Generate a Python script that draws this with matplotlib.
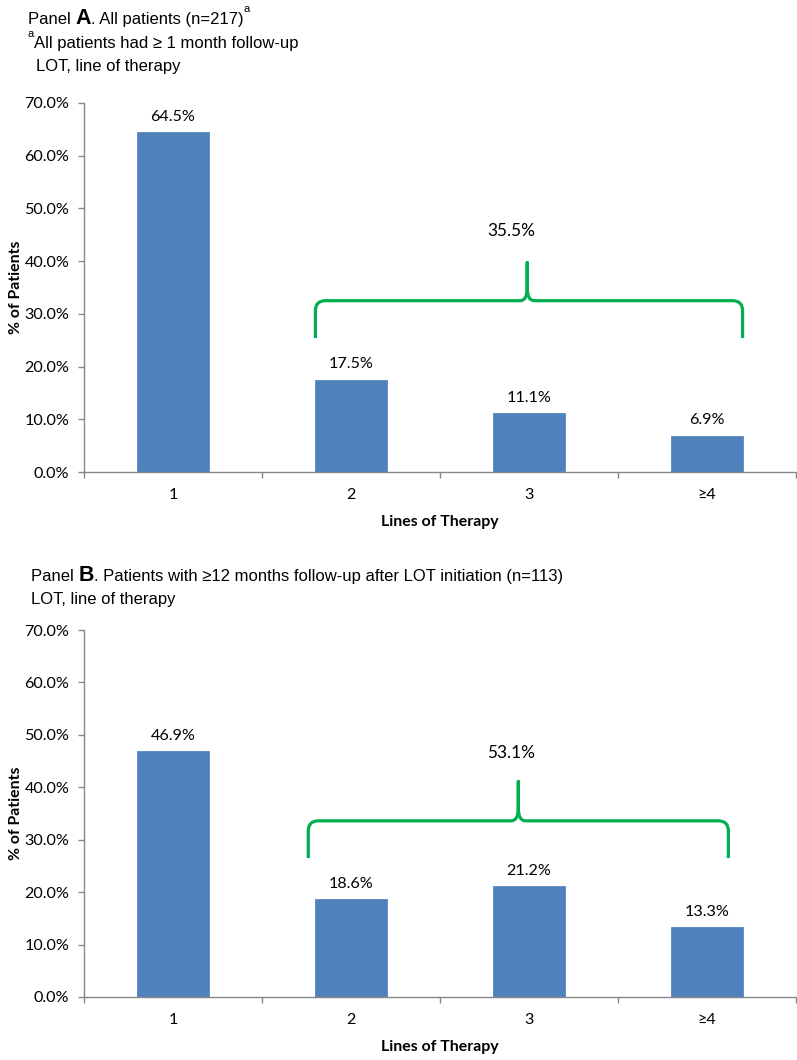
import matplotlib
matplotlib.use('Agg')
import matplotlib.pyplot as plt
from matplotlib.path import Path
from matplotlib.patches import PathPatch

# ---------------- data ----------------
categories = ['1', '2', '3', '≥4']
panel_a_values = [64.5, 17.5, 11.1, 6.9]
panel_b_values = [46.9, 18.6, 21.2, 13.3]
panel_a_total = 35.5   # sum of LOT 2..>=4
panel_b_total = 53.1
y_ticks = [0, 10, 20, 30, 40, 50, 60, 70]

# bracket annotation geometry (data coords): x_left, x_mid, x_right, y_bottom, y_bar, y_tip
bracket_a = (0.80, 1.99, 3.20, 25.4, 32.5, 39.7)
bracket_b = (0.76, 1.94, 3.12, 26.5, 33.6, 41.1)
total_label_a = (1.90, 45.8)
total_label_b = (1.90, 46.6)

W, H = 797, 1060
BAR = '#4F81BD'
GRAY = '#878787'
GREEN = '#00B050'
CAL = ['Lato', 'DejaVu Sans']
ARIAL = ['Liberation Sans', 'DejaVu Sans']

fig = plt.figure(figsize=(W / 100, H / 100), dpi=100)
renderer = fig.canvas.get_renderer()


def px_axes(left, top, right, bottom):
    return fig.add_axes([left / W, 1 - bottom / H, (right - left) / W, (bottom - top) / H])


def draw_brace(ax, geom):
    x0, xm, x1, yb, yh, yt = geom
    p0 = ax.transData.transform((0, 0))
    p1 = ax.transData.transform((1, 1))
    sx = p1[0] - p0[0]
    sy = p1[1] - p0[1]
    rx, ry = 10 / sx, 10 / sy      # corner radius
    dx, dy = 7 / sx, 13 / sy       # tip flare
    verts = [
        (x0, yb), (x0, yh - ry),
        (x0, yh), (x0 + rx, yh),
        (xm - dx, yh),
        (xm, yh), (xm, yh + dy),
        (xm, yt),
        (xm, yh + dy),
        (xm, yh), (xm + dx, yh),
        (x1 - rx, yh),
        (x1, yh), (x1, yh - ry),
        (x1, yb),
    ]
    codes = [Path.MOVETO, Path.LINETO,
             Path.CURVE3, Path.CURVE3,
             Path.LINETO,
             Path.CURVE3, Path.CURVE3,
             Path.LINETO,
             Path.LINETO,
             Path.CURVE3, Path.CURVE3,
             Path.LINETO,
             Path.CURVE3, Path.CURVE3,
             Path.LINETO]
    patch = PathPatch(Path(verts, codes), fill=False, edgecolor=GREEN,
                      lw=2.3, capstyle='butt', joinstyle='round', clip_on=False)
    ax.add_patch(patch)


def style_panel(ax, values, total, total_pos, brace):
    x = list(range(len(categories)))
    ax.bar(x, values, width=0.4, color=BAR, edgecolor='#5A88C0', lw=0.6, zorder=2)
    ax.set_xlim(-0.5, len(categories) - 0.5)
    ax.set_ylim(0, 70)
    for s in ('top', 'right'):
        ax.spines[s].set_visible(False)
    for s in ('left', 'bottom'):
        ax.spines[s].set_color(GRAY)
        ax.spines[s].set_linewidth(1.0)
    ax.set_yticks(y_ticks)
    ax.set_yticklabels([f'{v:.1f}%' for v in y_ticks], family=CAL, fontsize=11.6)
    ax.tick_params(axis='y', length=4, width=1, color=GRAY, pad=6.5)
    ax.set_xticks(x)
    ax.set_xticklabels(categories, family=CAL, fontsize=11.6)
    ax.tick_params(axis='x', which='major', length=0, pad=11.5)
    ax.set_xticks([i - 0.5 for i in range(len(categories) + 1)], minor=True)
    ax.tick_params(axis='x', which='minor', length=4, width=1, color=GRAY)
    for i, v in enumerate(values):
        ax.annotate(f'{v:.1f}%', (i, v), xytext=(0, 6), textcoords='offset points',
                    ha='center', va='bottom', family=CAL, fontsize=11.6)
    ax.set_xlabel('Lines of Therapy', family=CAL, fontsize=11.4, fontweight='bold', labelpad=9.5)
    ax.set_ylabel('% of Patients', family=CAL, fontsize=11.4, fontweight='bold', labelpad=1)
    draw_brace(ax, brace)
    ax.text(total_pos[0], total_pos[1], f'{total:.1f}%', ha='center', va='center',
            family=CAL, fontsize=12.4)


def runs(x_px, base_px, items):
    """items: (text, fontsize, weight, rise_px)"""
    x = x_px
    for text, size, weight, rise in items:
        t = fig.text(x / W, 1 - (base_px - rise) / H, text, fontsize=size,
                     fontweight=weight, family=ARIAL, va='baseline', ha='left')
        bb = t.get_window_extent(renderer)
        x = bb.x1


axA = px_axes(84, 103, 796, 472)
axB = px_axes(84, 630, 796, 997)
style_panel(axA, panel_a_values, panel_a_total, total_label_a, bracket_a)
style_panel(axB, panel_b_values, panel_b_total, total_label_b, bracket_b)

# ---------------- headers ----------------
TS = 12.0
runs(28, 24.3, [('Panel ', TS, 'normal', 0), ('A', 15.5, 'bold', 0),
                ('. All patients (n=217)', TS, 'normal', 0), ('a', 8, 'normal', 12)])
runs(28, 48.3, [('a', 8, 'normal', 11), ('All patients had ≥ 1 month follow-up', TS, 'normal', 0)])
runs(36, 71.5, [('LOT, line of therapy', TS, 'normal', 0)])

runs(31, 580.7, [('Panel ', TS, 'normal', 0), ('B', 15.5, 'bold', 0),
                 ('. Patients with ≥12 months follow-up after LOT initiation (n=113)', TS, 'normal', 0)])
runs(31, 604, [('LOT, line of therapy', TS, 'normal', 0)])

fig.savefig('out.png', dpi=100)
